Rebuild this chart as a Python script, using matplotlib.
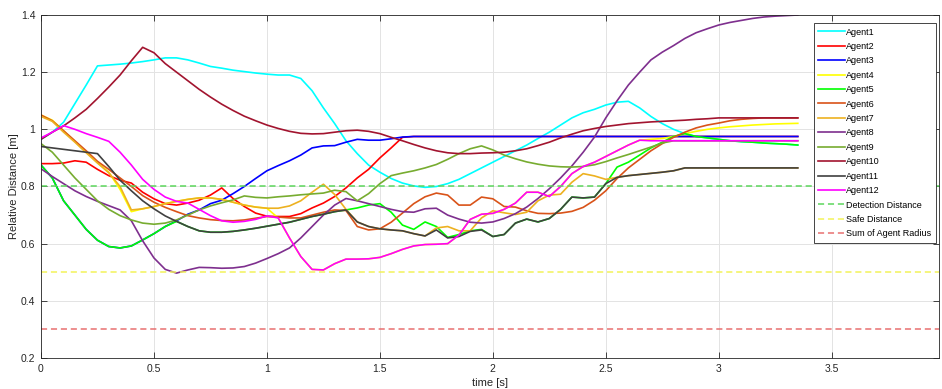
import numpy as np
import matplotlib
matplotlib.use("Agg")
import matplotlib.pyplot as plt

plt.rcParams['font.family'] = ['Liberation Sans', 'DejaVu Sans']

# sample times (s), 0.05 s step
t = np.round(np.arange(68) * 0.05, 2)

agent1 = [0.965, 0.99, 1.025, 1.09, 1.155, 1.222, 1.225, 1.228, 1.232, 1.237,
          1.243, 1.25, 1.25, 1.243, 1.232, 1.22, 1.214, 1.207, 1.202, 1.197,
          1.193, 1.19, 1.19, 1.178, 1.135, 1.075, 1.02, 0.96, 0.915, 0.875,
          0.85, 0.828, 0.812, 0.802, 0.797, 0.80, 0.81, 0.825, 0.845, 0.865,
          0.885, 0.905, 0.925, 0.945, 0.968, 0.99, 1.015, 1.04, 1.058, 1.07,
          1.085, 1.095, 1.098, 1.075, 1.045, 1.02, 1.0, 0.985, 0.975, 0.97,
          0.965, 0.96, 0.957, 0.955, 0.952, 0.95, 0.948, 0.945]
agent2 = [0.88, 0.88, 0.882, 0.89, 0.885, 0.86, 0.838, 0.822, 0.812, 0.78,
          0.757, 0.74, 0.735, 0.742, 0.752, 0.77, 0.795, 0.758, 0.73, 0.707,
          0.696, 0.695, 0.695, 0.705, 0.725, 0.742, 0.765, 0.795, 0.83, 0.86,
          0.9, 0.935, 0.972, 0.975, 0.975, 0.975, 0.975, 0.975, 0.975, 0.975,
          0.975, 0.975, 0.975, 0.975, 0.975, 0.975, 0.975, 0.975, 0.975, 0.975,
          0.975, 0.975, 0.975, 0.975, 0.975, 0.975, 0.975, 0.975, 0.975, 0.975,
          0.975, 0.975, 0.975, 0.975, 0.975, 0.975, 0.975, 0.975]
agent3 = [0.875, 0.83, 0.75, 0.70, 0.65, 0.612, 0.59, 0.585, 0.592, 0.613,
          0.635, 0.66, 0.68, 0.703, 0.718, 0.74, 0.752, 0.775, 0.80, 0.828,
          0.855, 0.873, 0.89, 0.91, 0.935, 0.942, 0.943, 0.955, 0.965, 0.962,
          0.962, 0.967, 0.973, 0.975, 0.975, 0.975, 0.975, 0.975, 0.975, 0.975,
          0.975, 0.975, 0.975, 0.975, 0.975, 0.975, 0.975, 0.975, 0.975, 0.975,
          0.975, 0.975, 0.975, 0.975, 0.975, 0.975, 0.975, 0.975, 0.975, 0.975,
          0.975, 0.975, 0.975, 0.975, 0.975, 0.975, 0.975, 0.975]
agent4 = [1.05, 1.032, 0.995, 0.958, 0.92, 0.884, 0.85, 0.79, 0.712, 0.722,
          0.73, 0.74, 0.748, 0.755, 0.76, 0.76, 0.755, 0.745, 0.735, 0.728,
          0.724, 0.69, 0.62, 0.555, 0.51, 0.508, 0.53, 0.546, 0.546, 0.547,
          0.552, 0.565, 0.58, 0.592, 0.597, 0.598, 0.6, 0.63, 0.685, 0.703,
          0.706, 0.72, 0.742, 0.78, 0.78, 0.765, 0.8, 0.845, 0.87, 0.885,
          0.905, 0.925, 0.945, 0.962, 0.965, 0.968, 0.975, 0.985, 0.993, 1.0,
          1.005, 1.009, 1.012, 1.015, 1.017, 1.019, 1.02, 1.021]
agent5 = [0.875, 0.83, 0.75, 0.70, 0.65, 0.612, 0.59, 0.585, 0.592, 0.613,
          0.635, 0.66, 0.678, 0.66, 0.645, 0.64, 0.64, 0.643, 0.648, 0.654,
          0.661, 0.668, 0.675, 0.685, 0.695, 0.703, 0.712, 0.718, 0.725, 0.735,
          0.74, 0.71, 0.665, 0.65, 0.676, 0.66, 0.622, 0.632, 0.645, 0.65,
          0.625, 0.632, 0.672, 0.686, 0.676, 0.688, 0.72, 0.763, 0.76, 0.763,
          0.81, 0.868, 0.885, 0.91, 0.935, 0.955, 0.975, 0.985, 0.975, 0.97,
          0.965, 0.96, 0.957, 0.955, 0.952, 0.95, 0.948, 0.945]
agent6 = [1.05, 1.03, 0.995, 0.96, 0.925, 0.888, 0.86, 0.83, 0.80, 0.768,
          0.745, 0.727, 0.712, 0.698, 0.69, 0.684, 0.681, 0.68, 0.683, 0.689,
          0.695, 0.693, 0.69, 0.69, 0.70, 0.71, 0.718, 0.716, 0.66, 0.648,
          0.652, 0.675, 0.707, 0.74, 0.764, 0.777, 0.77, 0.735, 0.735, 0.763,
          0.757, 0.73, 0.728, 0.715, 0.706, 0.705, 0.707, 0.713, 0.727, 0.752,
          0.785, 0.828, 0.865, 0.895, 0.925, 0.95, 0.972, 0.99, 1.005, 1.015,
          1.022, 1.03, 1.035, 1.038, 1.04, 1.04, 1.04, 1.04]
agent7 = [1.045, 1.028, 0.99, 0.955, 0.918, 0.882, 0.848, 0.80, 0.718, 0.722,
          0.73, 0.74, 0.748, 0.755, 0.76, 0.76, 0.755, 0.745, 0.735, 0.728,
          0.724, 0.724, 0.732, 0.75, 0.78, 0.808, 0.772, 0.72, 0.676, 0.66,
          0.652, 0.648, 0.645, 0.635, 0.627, 0.655, 0.66, 0.645, 0.645, 0.69,
          0.715, 0.708, 0.702, 0.71, 0.75, 0.77, 0.773, 0.815, 0.845, 0.837,
          0.825, 0.832, 0.838, 0.842, 0.846, 0.85, 0.855, 0.865, 0.865, 0.865,
          0.865, 0.865, 0.865, 0.865, 0.865, 0.865, 0.865, 0.865]
agent8 = [0.862, 0.835, 0.81, 0.785, 0.765, 0.748, 0.733, 0.718, 0.68, 0.61,
          0.55, 0.51, 0.497, 0.508, 0.517, 0.516, 0.514, 0.515, 0.52, 0.532,
          0.548, 0.565, 0.585, 0.62, 0.66, 0.7, 0.735, 0.758, 0.75, 0.74,
          0.73, 0.72, 0.712, 0.71, 0.722, 0.724, 0.70, 0.686, 0.675, 0.672,
          0.676, 0.688, 0.705, 0.728, 0.758, 0.792, 0.83, 0.872, 0.92, 0.973,
          1.04, 1.10, 1.155, 1.2, 1.243, 1.27, 1.293, 1.318, 1.338, 1.352,
          1.365, 1.374, 1.381, 1.388, 1.393, 1.396, 1.398, 1.40]
agent9 = [0.95, 0.92, 0.875, 0.83, 0.79, 0.75, 0.72, 0.698, 0.683, 0.672,
          0.668, 0.672, 0.683, 0.70, 0.718, 0.732, 0.743, 0.753, 0.767, 0.762,
          0.76, 0.764, 0.767, 0.771, 0.774, 0.777, 0.787, 0.782, 0.75, 0.775,
          0.81, 0.838, 0.847, 0.855, 0.865, 0.877, 0.895, 0.915, 0.932, 0.942,
          0.928, 0.91, 0.897, 0.886, 0.878, 0.872, 0.869, 0.868, 0.87, 0.876,
          0.887, 0.9, 0.912, 0.925, 0.938, 0.952, 0.96, 0.96, 0.96, 0.96,
          0.96, 0.96, 0.96, 0.96, 0.96, 0.96, 0.96, 0.96]
agent10 = [0.965, 0.99, 1.012, 1.04, 1.07, 1.108, 1.148, 1.19, 1.24, 1.287,
           1.268, 1.23, 1.2, 1.17, 1.14, 1.113, 1.088, 1.066, 1.046, 1.03,
           1.015, 1.003, 0.993, 0.986, 0.984, 0.985, 0.99, 0.995, 0.997, 0.993,
           0.985, 0.972, 0.96, 0.947, 0.935, 0.925, 0.918, 0.915, 0.915, 0.917,
           0.918, 0.92, 0.925, 0.932, 0.943, 0.955, 0.97, 0.983, 0.995, 1.003,
           1.01, 1.015, 1.02, 1.023, 1.026, 1.028, 1.03, 1.032, 1.035, 1.037,
           1.04, 1.04, 1.04, 1.04, 1.04, 1.04, 1.04, 1.04]
agent11 = [0.94, 0.935, 0.93, 0.925, 0.92, 0.915, 0.87, 0.822, 0.785, 0.75,
           0.722, 0.697, 0.678, 0.66, 0.645, 0.64, 0.64, 0.643, 0.648, 0.654,
           0.661, 0.668, 0.675, 0.685, 0.695, 0.703, 0.712, 0.718, 0.676, 0.66,
           0.652, 0.648, 0.645, 0.635, 0.627, 0.648, 0.62, 0.625, 0.643, 0.648,
           0.625, 0.632, 0.672, 0.686, 0.676, 0.688, 0.72, 0.763, 0.76, 0.763,
           0.81, 0.832, 0.838, 0.842, 0.846, 0.85, 0.855, 0.865, 0.865, 0.865,
           0.865, 0.865, 0.865, 0.865, 0.865, 0.865, 0.865, 0.865]
agent12 = [0.97, 0.99, 1.013, 1.0, 0.985, 0.972, 0.958, 0.92, 0.875, 0.825,
           0.79, 0.763, 0.748, 0.742, 0.72, 0.698, 0.68, 0.675, 0.678, 0.685,
           0.697, 0.69, 0.62, 0.555, 0.51, 0.508, 0.53, 0.546, 0.546, 0.547,
           0.552, 0.565, 0.58, 0.592, 0.597, 0.598, 0.6, 0.63, 0.685, 0.703,
           0.706, 0.72, 0.742, 0.78, 0.78, 0.765, 0.8, 0.845, 0.87, 0.885,
           0.905, 0.925, 0.945, 0.962, 0.96, 0.96, 0.96, 0.96, 0.96, 0.96,
           0.96, 0.96, 0.96, 0.96, 0.96, 0.96, 0.96, 0.96]

agents = [agent1, agent2, agent3, agent4, agent5, agent6,
          agent7, agent8, agent9, agent10, agent11, agent12]
agent_names = ["Agent%d" % (i + 1) for i in range(12)]
agent_colors = ["#00FFFF", "#FF0000", "#0000FF", "#FFFF00", "#00FF00", "#D95319",
                "#EDB120", "#7E2F8E", "#77AC30", "#A2142F", "#404040", "#FF00FF"]

# reference distances
detection_dist = 0.8
safe_dist = 0.5
radius_sum = 0.3

fig = plt.figure(figsize=(9.42, 3.89), dpi=100)
ax = fig.add_axes([41 / 942, 1 - 358 / 389, 898 / 942, 343 / 389])

for vals, name, col in zip(agents, agent_names, agent_colors):
    ax.plot(t, vals, color=col, lw=1.2, label=name)

dash = (4, 2.5)
ax.axhline(detection_dist, color="#5CD65C", lw=1.1, dashes=dash, label="Detection Distance")
ax.axhline(safe_dist, color="#F2F25A", lw=1.1, dashes=dash, label="Safe Distance")
ax.axhline(radius_sum, color="#E87070", lw=1.1, dashes=dash, label="Sum of Agent Radius")

ax.set_xlim(0, 3.975)
ax.set_ylim(0.2, 1.4)
ax.set_xticks([0, 0.5, 1, 1.5, 2, 2.5, 3, 3.5])
ax.set_xticklabels(["0", "0.5", "1", "1.5", "2", "2.5", "3", "3.5"])
ax.set_yticks([0.2, 0.4, 0.6, 0.8, 1.0, 1.2, 1.4])
ax.set_yticklabels(["0.2", "0.4", "0.6", "0.8", "1", "1.2", "1.4"])

# matlab look: box on, ticks inside, light grid
ax.grid(True, color="#E3E3E3", lw=0.7)
ax.set_axisbelow(True)
ax.tick_params(direction="in", length=4, width=0.6, top=True, right=True,
               labelsize=7.5, colors="#262626", pad=4)
for s in ax.spines.values():
    s.set_color("#262626")
    s.set_linewidth(0.6)

ax.set_xlabel("time [s]", fontsize=8, color="#262626", labelpad=3)
ax.set_ylabel("Relative Distance [m]", fontsize=8, color="#262626", labelpad=1)

leg = ax.legend(loc="upper right", bbox_to_anchor=(0.9967, 0.9767), borderaxespad=0,
                fontsize=6.5, handlelength=3.0, handletextpad=0.1, labelspacing=0.6,
                fancybox=False, framealpha=1, borderpad=0.5)
leg.get_frame().set_edgecolor("#262626")
leg.get_frame().set_linewidth(0.6)

plt.savefig("out.png", dpi=100)
